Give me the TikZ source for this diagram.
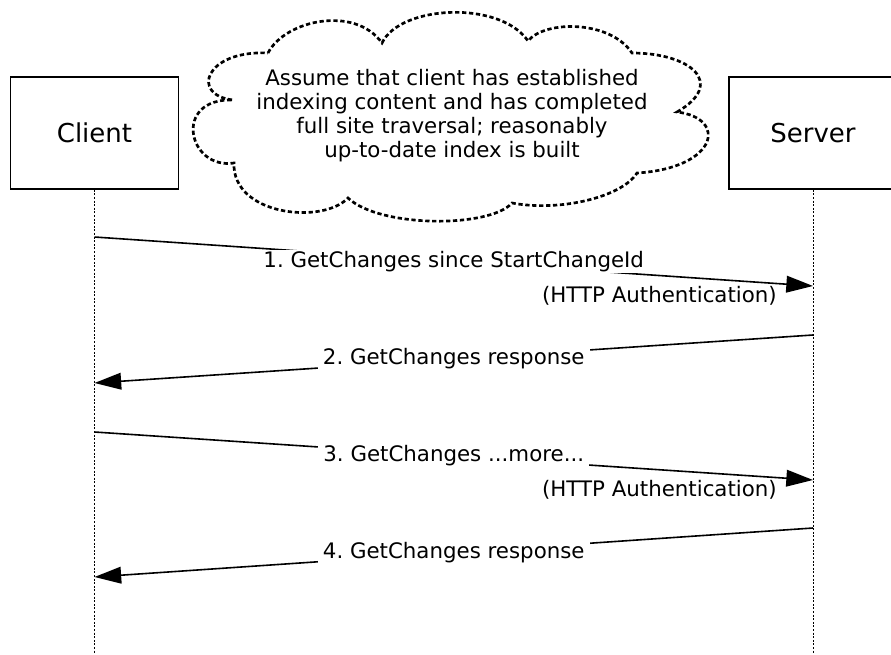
\documentclass[tikz,border=0pt]{standalone}
\usepackage{fontspec}
\setmainfont{DejaVu Sans}
\usetikzlibrary{arrows.meta,positioning}
\frenchspacing

\tikzset{
  actor/.style={draw, line width=1.2pt, minimum width=126pt, minimum height=84pt,
    font=\fontsize{19.5}{23}\selectfont},
  lifeline/.style={line width=0.7pt, dash pattern=on 1.5pt off 1.2pt},
  msg/.style={line width=1.2pt, -{Triangle[length=20pt,width=12.5pt]}},
  lbl/.style={font=\fontsize{16}{18}\selectfont, inner xsep=4pt, inner ysep=1pt},
  cloudline/.style={line width=2pt, dash pattern=on 3.2pt off 2pt}
}

\begin{document}
\begin{tikzpicture}
  [x=0.75pt,y=-0.75pt]
  \useasboundingbox (0,0) rectangle (891,654);

  \node[actor] (client) at (94.5,133) {Client};
  \node[actor] (server) at (813,133) {Server};

  % lifelines
  \coordinate (cend) at (94.5,654);
  \coordinate (send) at (813,654);
  \draw[lifeline] (client.south) -- (cend);
  \draw[lifeline] (server.south) -- (send);

  % note
  \draw[cloudline] (268,53)
    .. controls (285,20) and (355,5) .. (382,43)
    .. controls (400,5) and (500,0) .. (528,41)
    .. controls (545,20) and (610,20) .. (632,53)
    .. controls (690,53) and (727,83) .. (677,112)
    .. controls (728,118) and (718,168) .. (637,173)
    .. controls (622,197) and (560,212) .. (512,203)
    .. controls (490,228) and (380,228) .. (348,198)
    .. controls (322,225) and (232,215) .. (234,163)
    .. controls (188,170) and (172,98) .. (233,100)
    .. controls (190,95) and (205,50) .. cycle;
  \node[lbl, align=center] (note) at (452,116)
    {Assume that client has established\\indexing content and has completed\\
     full site traversal; reasonably\\up-to-date index is built};

  \coordinate (c1) at (94.5,237);
  \coordinate (s1) at (813,286);
  \coordinate (s2) at (813,335);
  \coordinate (c2) at (94.5,383);
  \coordinate (c3) at (94.5,432);
  \coordinate (s3) at (813,480);
  \coordinate (s4) at (813,528);
  \coordinate (c4) at (94.5,577);

  \draw[msg] (c1) -- node[lbl, fill=white] (m1) {1. GetChanges since StartChangeId} (s1);
  \node[lbl, below left=-1pt and 23pt of s1] (auth1) {(HTTP Authentication)};
  \draw[msg] (s2) -- node[lbl, fill=white] (m2) {2. GetChanges response} (c2);
  \draw[msg] (c3) -- node[lbl, fill=white] (m3) {3. GetChanges ...more...} (s3);
  \node[lbl, below left=-1pt and 23pt of s3] (auth3) {(HTTP Authentication)};
  \draw[msg] (s4) -- node[lbl, fill=white] (m4) {4. GetChanges response} (c4);
\end{tikzpicture}
\end{document}
